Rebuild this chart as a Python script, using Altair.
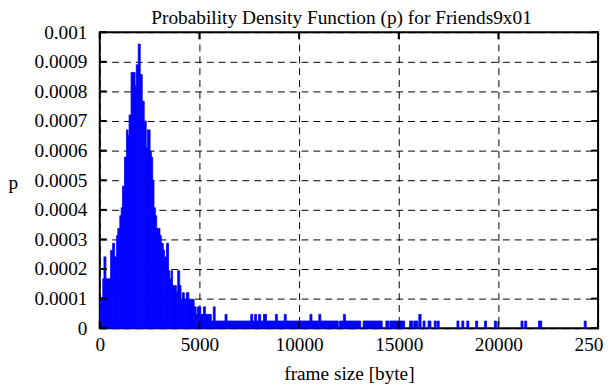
import altair as alt
import pandas as pd

# frame-size bins [byte] and probability density values
bin_lo = [0, 50, 150, 210, 310, 545, 645, 745, 845, 905, 1005, 1075, 1140, 1240,
          1340, 1420, 1470, 1570, 1770, 1830, 1930, 2030, 2130, 2230, 2330, 2390,
          2525, 2590, 2655, 2720, 2790, 2855, 3020, 3085, 3185, 3250, 3350, 3450,
          3515, 3580, 3650, 3845, 3910, 4010, 4075, 4140, 4240, 4340, 4470, 4735,
          4835, 4900, 5065, 5200, 5300, 5595, 5695, 5790, 6285, 6385, 7575, 7675,
          7770, 7870, 7970, 8070, 8215, 8365, 8810, 8910, 9255, 9355, 10545, 10645,
          10990, 11090, 12030, 12225, 12325, 13215, 14355, 14555, 15545, 15755,
          16005, 16220, 16470, 16780, 16930, 17920, 18165, 18415, 18860, 19305,
          19800, 21135, 21320, 22015, 24305]
bin_hi = [50, 150, 210, 310, 545, 645, 745, 845, 905, 1005, 1075, 1140, 1240, 1340,
          1420, 1470, 1570, 1770, 1830, 1930, 2030, 2130, 2230, 2330, 2390, 2525,
          2590, 2655, 2720, 2790, 2855, 3020, 3085, 3185, 3250, 3350, 3450, 3515,
          3580, 3650, 3845, 3910, 4010, 4075, 4140, 4240, 4340, 4470, 4735, 4835,
          4900, 5065, 5200, 5300, 5595, 5695, 5790, 6285, 6385, 7575, 7675, 7770,
          7870, 7970, 8070, 8215, 8365, 8810, 8910, 9255, 9355, 10545, 10645, 10990,
          11090, 11970, 12225, 12325, 13090, 14170, 14505, 15295, 15705, 15955,
          16120, 16320, 16615, 16880, 17030, 18020, 18265, 18515, 18960, 19405,
          19900, 21235, 21420, 22175, 24405]
pdf = [0.000073, 0.000103, 0.000167, 0.000241, 0.000167, 0.000263, 0.000287,
       0.000241, 0.000313, 0.000337, 0.00038, 0.000407, 0.00048, 0.000578,
       0.00067, 0.00065, 0.00072, 0.000864, 0.00082, 0.00089, 0.00096, 0.000857,
       0.000767, 0.0007, 0.00061, 0.00067, 0.000598, 0.000578, 0.0005, 0.000407,
       0.00038, 0.000337, 0.000313, 0.000287, 0.000264, 0.000241, 0.000287,
       0.000194, 0.000167, 0.000194, 0.000144, 0.000122, 0.000194, 0.000144,
       0.0000978, 0.00012, 0.0000978, 0.00012, 0.0000978, 0.0000722, 0.0000467,
       0.0000722, 0.0000467, 0.0000722, 0.0000467, 0.0000244, 0.0000722,
       0.0000244, 0.0000467, 0.0000244, 0.0000467, 0.0000244, 0.0000467,
       0.0000244, 0.0000467, 0.0000244, 0.0000467, 0.0000244, 0.0000467,
       0.0000244, 0.0000467, 0.0000244, 0.0000467, 0.0000244, 0.0000467,
       0.0000244, 0.0000244, 0.0000467, 0.0000244, 0.0000244, 0.0000244,
       0.0000244, 0.0000244, 0.0000244, 0.0000467, 0.0000244, 0.0000244,
       0.0000244, 0.0000244, 0.0000244, 0.0000244, 0.0000244, 0.0000244,
       0.0000244, 0.0000244, 0.0000244, 0.0000244, 0.0000244, 0.0000244]

x_ticks = [0, 5000, 10000, 15000, 20000, 25000]
y_ticks = [0, 0.0001, 0.0002, 0.0003, 0.0004, 0.0005, 0.0006, 0.0007, 0.0008,
           0.0009, 0.001]

TITLE = "Probability Density Function (p) for Friends9x01"
X_TITLE = "frame size [byte]"
Y_TITLE = "p"

FONT = "Liberation Serif"
FS = 19.5
W, H = 505, 300
TL = 7  # inward tick length

df = pd.DataFrame({"lo": bin_lo, "hi": bin_hi, "p": pdf})
xt = pd.DataFrame({"lo": x_ticks})
yt = pd.DataFrame({"p": y_ticks})
tt = pd.DataFrame({"t": [TITLE]})

xscale = alt.Scale(domain=[0, 25000], nice=False, zero=False)
yscale = alt.Scale(domain=[0, 0.001], nice=False)

common_axis = dict(
    labelFont=FONT, labelFontSize=FS, labelColor="black",
    titleFont=FONT, titleFontSize=FS, titleFontWeight="normal", titleColor="black",
    grid=True, gridColor="black", gridDash=[7, 5], gridWidth=1, gridOpacity=1,
    ticks=False, domain=False,
)

x_axis = alt.Axis(values=x_ticks, format="d", title=X_TITLE,
                  labelFlush=False, labelPadding=8, labelBaseline="top",
                  titleY=52, titleBaseline="alphabetic", **common_axis)
y_axis = alt.Axis(values=y_ticks, format="~g", title=Y_TITLE,
                  labelPadding=13, labelFlush=False,
                  titleAngle=0, titleAlign="center",
                  titleX=-88, titleY=158, titleBaseline="alphabetic",
                  **common_axis)

bars = alt.Chart(df).mark_rect(color="#0000ff", stroke="#0000ff", strokeWidth=0.8).encode(
    x=alt.X("lo:Q", scale=xscale, axis=x_axis),
    x2="hi:Q",
    y=alt.Y("p:Q", scale=yscale, axis=y_axis),
    y2=alt.datum(0),
)

tick_style = dict(color="black", strokeWidth=2)
left_ticks = alt.Chart(yt).mark_rule(**tick_style).encode(
    y=alt.Y("p:Q", scale=yscale, axis=y_axis), x=alt.value(0), x2=alt.value(TL))
right_ticks = alt.Chart(yt).mark_rule(**tick_style).encode(
    y=alt.Y("p:Q", scale=yscale, axis=y_axis), x=alt.value(W - TL), x2=alt.value(W))
bottom_ticks = alt.Chart(xt).mark_rule(**tick_style).encode(
    x=alt.X("lo:Q", scale=xscale, axis=x_axis), y=alt.value(H), y2=alt.value(H - TL))
top_ticks = alt.Chart(xt).mark_rule(**tick_style).encode(
    x=alt.X("lo:Q", scale=xscale, axis=x_axis), y=alt.value(0), y2=alt.value(TL))

title_text = alt.Chart(tt).mark_text(
    font=FONT, fontSize=19.6, color="black", align="center", baseline="alphabetic"
).encode(text="t:N", x=alt.value(245), y=alt.value(-8))

chart = alt.layer(bars, left_ticks, right_ticks, bottom_ticks, top_ticks, title_text).properties(
    width=W, height=H,
    autosize=alt.AutoSizeParams(type="none"),
    padding={"left": 93, "top": 22, "right": 5, "bottom": 55},
).configure_view(stroke="black", strokeWidth=2)

chart.save("out.html", embed_options={"renderer": "svg", "actions": False})
